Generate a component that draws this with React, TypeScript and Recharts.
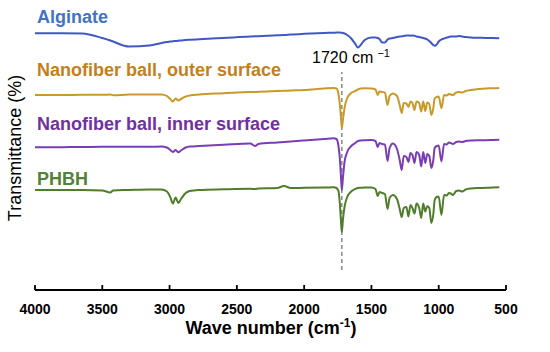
import React from 'react';
import { LineChart, Line, XAxis, YAxis, ReferenceLine } from 'recharts';

// wave numbers (cm-1), shared by all spectra
const waveNumbers = [
  4000, 3800, 3650, 3500, 3440, 3420, 3300, 3150, 3060, 3020,
  2995, 2975, 2955, 2935, 2915, 2880, 2850, 2780, 2600, 2400,
  2365, 2340, 2200, 2150, 2100, 2000, 1850, 1780, 1760, 1745,
  1735, 1725, 1720, 1712, 1700, 1680, 1650, 1620, 1600, 1580,
  1550, 1500, 1470, 1453, 1440, 1420, 1400, 1380, 1365, 1340,
  1310, 1290, 1275, 1260, 1240, 1225, 1210, 1195, 1180, 1165,
  1145, 1130, 1115, 1100, 1085, 1070, 1055, 1040, 1030, 1015,
  1000, 980, 960, 940, 925, 910, 895, 870, 850, 825,
  800, 760, 700, 650, 600, 550,
];

// transmittance, offset per sample (a.u.)
const alginate = [
  256.7, 256.7, 256.5, 252, 249.5, 248.5, 243.5, 244.5, 247, 248,
  248.5, 248.7, 249, 249.3, 249.5, 250, 250.2, 250.7, 252, 253.5,
  253.7, 253.8, 254.8, 255, 255.5, 256.2, 257, 257.3, 257.4, 257.4,
  257.4, 257.3, 257.2, 257, 256.5, 255, 251.5, 246, 242.5, 245,
  250, 252.5, 252.5, 252, 251, 247.5, 247.5, 250.5, 251.5, 252,
  253, 253.5, 253.7, 254, 254.5, 254.5, 254.3, 254.5, 254.2, 253.5,
  253, 252.5, 252, 251.5, 250.5, 249, 247, 245, 244.3, 245.5,
  248.5, 250.5, 251.5, 252.5, 253, 253.5, 253.5, 253.5, 254, 253.5,
  253, 252.5, 252.2, 252, 252, 251.7,
];

const outerSurface = [
  195, 195, 195.2, 195.2, 195.5, 194.8, 195.4, 195.5, 195.5, 194,
  191, 188.5, 191.5, 189.5, 191, 193.5, 194.5, 195.5, 196.7, 198,
  198, 198.2, 199, 199.2, 199.5, 200, 201.5, 202, 201.5, 196,
  186, 170, 162, 170, 182, 192, 197, 199, 200.5, 201.5,
  201.7, 201.5, 200.5, 195, 198.5, 198, 197.5, 185, 194, 196.5,
  194, 185, 177, 187, 186.5, 183, 188.5, 187, 180, 188.5,
  187, 178.5, 188.5, 179, 187.5, 186, 175, 182, 191.5, 193,
  193.5, 181.7, 195, 194.5, 196, 195.5, 195, 197.5, 198, 197.5,
  199, 200, 201, 201.5, 201.7, 202,
];

const innerSurface = [
  142.7, 142.8, 143, 143.2, 143.2, 143.2, 143.3, 143.3, 143.4, 142.5,
  140, 138, 140, 137.7, 139.5, 142.5, 143.5, 144, 145.2, 146.5,
  144, 146, 147.5, 148, 148.5, 149.5, 151, 151.7, 151, 144,
  132, 110, 100, 112, 128, 138, 144, 147, 149, 149.5,
  149.8, 150, 149, 143, 147, 146, 145.5, 129, 142, 146.5,
  141, 130, 120, 134, 133, 128, 137, 135, 127, 138,
  135, 123.5, 138, 127, 136, 134, 122, 130, 142, 144,
  144.5, 128.5, 146, 145.5, 147.5, 147, 146, 148, 148.5, 148,
  149, 149.5, 149.7, 149.8, 150, 150.2,
];

const phbh = [
  100, 100, 100, 99.5, 97.5, 99.5, 100, 100.5, 100.5, 98.5,
  93, 86.5, 92.5, 87, 91, 97, 99, 100, 100.7, 101.2,
  101, 101.5, 102, 104, 102, 102.2, 102.5, 102.7, 102, 99,
  87, 66, 58, 70, 83, 93, 98.5, 101, 102, 102.2,
  102.5, 102.5, 101, 94, 98, 97, 96, 81, 92, 95,
  91, 81, 73, 82, 83, 73.5, 85, 82, 76.5, 86.5,
  82, 72, 86.5, 78.5, 84, 82, 67, 76, 90, 93,
  93.5, 75, 95, 94.5, 97, 96.5, 95, 99, 99.5, 98.5,
  100.5, 101.5, 102, 102.2, 102.5, 102.7,
];

const xTicks = [4000, 3500, 3000, 2500, 2000, 1500, 1000, 500];
const carbonylPeak = 1720;

const data = waveNumbers.map((wn, i) => ({
  wn,
  alginate: alginate[i],
  outer: outerSurface[i],
  inner: innerSurface[i],
  phbh: phbh[i],
}));

const font = '"Liberation Sans", Arial, sans-serif';

const AxisTick = (props: any) => {
  const { x, y, payload } = props;
  return (
    <g>
      <line x1={x} x2={x} y1={y} y2={y - 5} stroke="#000" strokeWidth={1.8} />
      <text x={x} y={y + 24} textAnchor="middle" fontSize={14} fontWeight="bold" fill="#000" fontFamily={font}>
        {payload.value}
      </text>
    </g>
  );
};

const App: React.FC = () => {
  return (
    <div style={{ position: 'absolute', left: 0, top: 0, width: 550, height: 352, background: '#fff' }}>
      <LineChart width={550} height={352} data={data} margin={{ top: 0, right: 44, bottom: 0, left: 35 }}>
        <XAxis
          dataKey="wn"
          type="number"
          domain={[500, 4000]}
          reversed
          ticks={xTicks}
          interval={0}
          height={62}
          tickSize={0}
          tickMargin={0}
          tick={<AxisTick />}
          axisLine={{ stroke: '#000', strokeWidth: 2 }}
        />
        <YAxis type="number" domain={[0, 290]} hide />
        <ReferenceLine
          segment={[{ x: carbonylPeak, y: 20 }, { x: carbonylPeak, y: 218 }]}
          stroke="#888"
          strokeWidth={1.5}
          strokeDasharray="4 3"
        />
        <Line type="monotone" dataKey="alginate" stroke="#4158c4" strokeWidth={2} dot={false} isAnimationActive={false} />
        <Line type="monotone" dataKey="outer" stroke="#c99a2a" strokeWidth={2} dot={false} isAnimationActive={false} />
        <Line type="monotone" dataKey="inner" stroke="#7a3db5" strokeWidth={2} dot={false} isAnimationActive={false} />
        <Line type="monotone" dataKey="phbh" stroke="#4f7d2b" strokeWidth={2} dot={false} isAnimationActive={false} />
      </LineChart>
      <svg width={550} height={352} style={{ position: 'absolute', left: 0, top: 0, pointerEvents: 'none' }} fontFamily={font}>
        <text x={37} y={23} fontSize={18} fontWeight="bold" fill="#4472c4">Alginate</text>
        <text x={37} y={76} fontSize={18} fontWeight="bold" fill="#c47f1a">Nanofiber ball, outer surface</text>
        <text x={37} y={129.5} fontSize={18} fontWeight="bold" fill="#7030a0">Nanofiber ball, inner surface</text>
        <text x={37} y={184.5} fontSize={18} fontWeight="bold" fill="#538135">PHBH</text>
        <text x={312} y={63} fontSize={16} fill="#000">
          1720 cm<tspan dx={4} dy={-6} fontSize={11}>−1</tspan>
        </text>
        <text transform="translate(21,148) rotate(-90)" textAnchor="middle" fontSize={18} fill="#000">
          Transmittance (%)
        </text>
        <text x={271} y={334} textAnchor="middle" fontSize={18} fontWeight="bold" fill="#000">
          Wave number (cm<tspan dy={-7} fontSize={12}>-1</tspan><tspan dy={7} fontSize={18}>)</tspan>
        </text>
      </svg>
    </div>
  );
};

export default App;
